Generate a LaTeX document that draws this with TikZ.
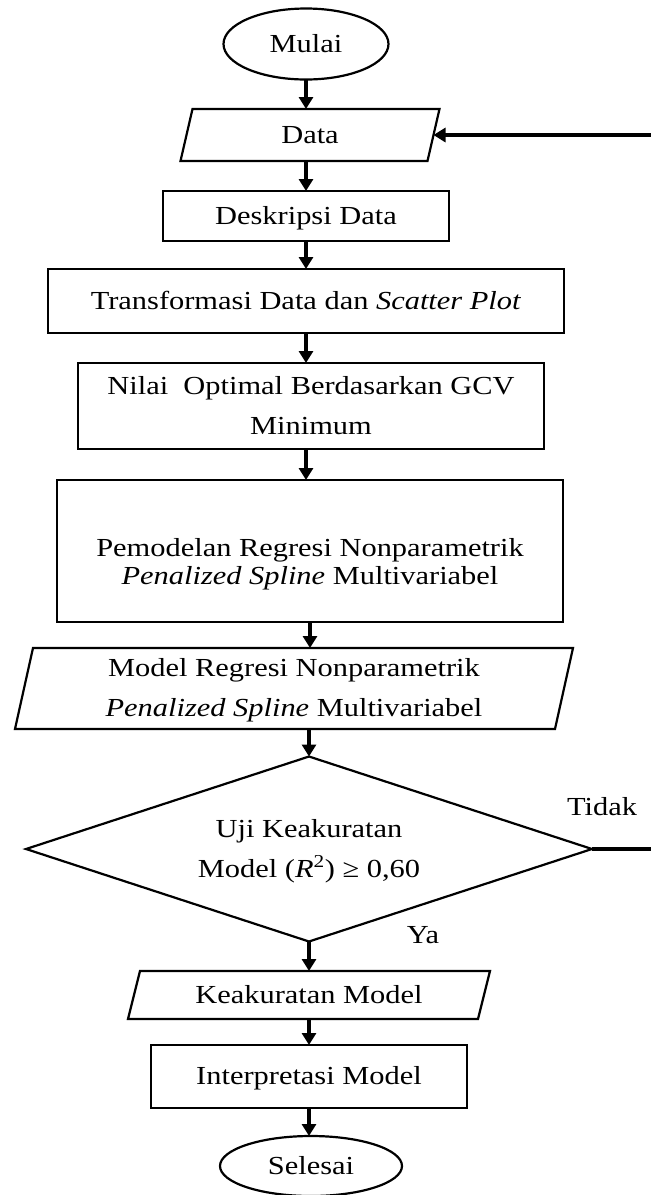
\documentclass[tikz,border=0pt]{standalone}
\usepackage{fontspec}
\setmainfont{Liberation Serif}
\usetikzlibrary{shapes.geometric,arrows.meta,calc}
\newcommand{\hstext}[1]{\scalebox{1.17}[1]{\begin{tabular}{@{}c@{}}#1\end{tabular}}}
\newcommand{\hstextb}[1]{\scalebox{1.17}[1]{\fontsize{26}{28}\selectfont\begin{tabular}{@{}c@{}}#1\end{tabular}}}
\begin{document}
\begin{tikzpicture}[x=1pt,y=-1pt,
  every node/.style={inner sep=0pt, outer sep=0pt, font=\fontsize{26}{40}\selectfont},
  shp/.style={draw, line width=2.2pt},
  box/.style={shp, rectangle},
  term/.style={shp, ellipse},
  io/.style={rectangle},
  cond/.style={shp, diamond, aspect=3},
  arr/.style={line width=3.2pt, -{Triangle[length=12pt,width=14pt]}},
  lin/.style={line width=3.2pt}]
\useasboundingbox (0,0) rectangle (651,1195);

% nodes
\node[term, minimum width=165pt, minimum height=71pt] (mulai) at (306,44) {\hstext{Mulai}};
\node[io, minimum width=247pt, minimum height=52pt] (data) at (310,135) {\hstext{Data}};
\node[box, minimum width=286pt, minimum height=50pt] (desk) at (306,216) {\hstext{Deskripsi Data}};
\node[box, minimum width=516pt, minimum height=64pt] (trans) at (306,301) {\hstext{Transformasi Data dan \textit{Scatter Plot}}};
\node[box, minimum width=466pt, minimum height=86pt] (nilai) at (311,406) {\hstext{Nilai\ \ Optimal Berdasarkan GCV\\Minimum}};
\node[box, minimum width=506pt, minimum height=142pt] (pemod) at (310,551) {};
\node (pemodtxt) at (310,565) {\hstextb{Pemodelan Regresi Nonparametrik\\\textit{Penalized Spline} Multivariabel}};
\node[io, minimum width=540pt, minimum height=81pt] (model) at (294,688.5) {\hstext{Model Regresi Nonparametrik\\\textit{Penalized Spline} Multivariabel}};
\node[cond, minimum width=566pt, minimum height=185pt] (uji) at (309,849) {\hstext{Uji Keakuratan\\Model (\textit{R}\textsuperscript{2}) ≥ 0,60}};
\node[io, minimum width=350pt, minimum height=48pt] (keak) at (309,995) {\hstext{Keakuratan Model}};
\node[box, minimum width=316pt, minimum height=63pt] (interp) at (309,1076.5) {\hstext{Interpretasi Model}};
\node[term, minimum width=182pt, minimum height=60pt] (selesai) at (311,1166) {\hstext{Selesai}};
\node (tidak) at (602,807) {\hstext{Tidak}};
\node (ya) at (423,935) {\hstext{Ya}};
\coordinate (rt) at (658,0);

% parallelograms
\draw[shp] ([xshift=6pt]data.north west) -- ([xshift=6pt]data.north east) -- ([xshift=-6pt]data.south east) -- ([xshift=-6pt]data.south west) -- cycle;
\draw[shp] ([xshift=9pt]model.north west) -- ([xshift=9pt]model.north east) -- ([xshift=-9pt]model.south east) -- ([xshift=-9pt]model.south west) -- cycle;
\draw[shp] ([xshift=6pt]keak.north west) -- ([xshift=6pt]keak.north east) -- ([xshift=-6pt]keak.south east) -- ([xshift=-6pt]keak.south west) -- cycle;

% connectors
\draw[arr] (mulai.south) -- (mulai.south |- data.north);
\draw[arr] (desk.north |- data.south) -- (desk.north);
\draw[arr] (desk.south) -- (desk.south |- trans.north);
\draw[arr] (trans.south) -- (trans.south |- nilai.north);
\draw[arr] (trans.south |- nilai.south) -- (trans.south |- pemod.north);
\draw[arr] (pemod.south) -- (pemod.south |- model.north);
\draw[arr] (uji.north |- model.south) -- (uji.north);
\draw[arr] (uji.south) -- (uji.south |- keak.north);
\draw[arr] (interp.north |- keak.south) -- (interp.north);
\draw[arr] (interp.south) -- (interp.south |- selesai.north);
\draw[arr] (uji.east) -- (uji.east -| rt) -- (rt |- data.east) -- (data.east);
\end{tikzpicture}
\end{document}
